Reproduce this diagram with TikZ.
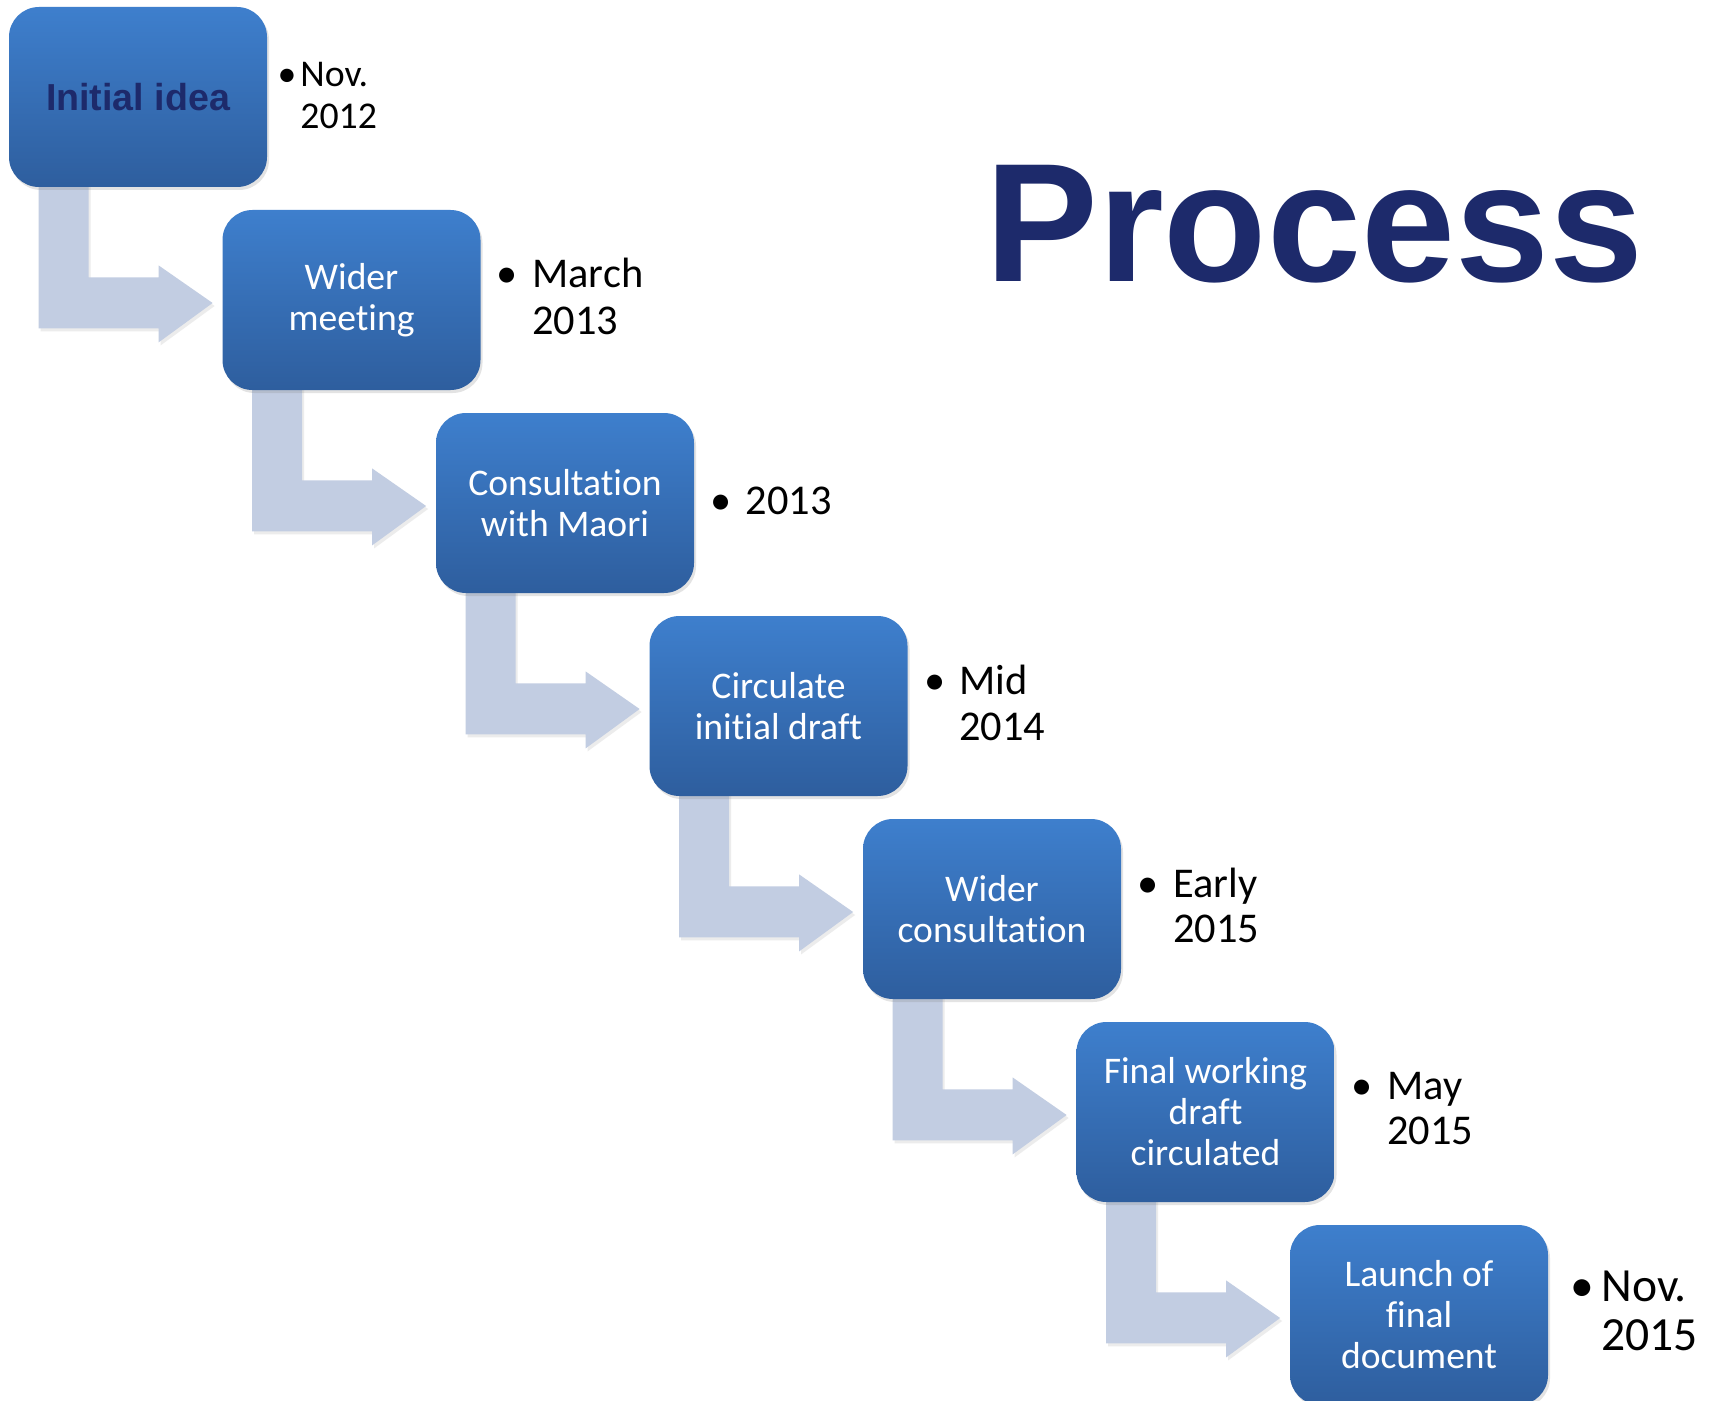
\documentclass[tikz,border=0pt]{standalone}
\usepackage{fontspec}
\setmainfont{Carlito}[Ligatures={NoCommon}]
\newfontfamily\arialfont{Liberation Sans}
\usetikzlibrary{calc,shadows,backgrounds}
\definecolor{navy}{RGB}{29,42,107}
\definecolor{boxtop}{RGB}{62,127,205}
\definecolor{boxbot}{RGB}{46,94,158}
\definecolor{arrowc}{RGB}{194,205,226}
\tikzset{
  stagebox/.style={minimum width=129pt, minimum height=90pt, inner sep=0pt,
    rounded corners=15pt, top color=boxtop, bottom color=boxbot, draw=none,
    text=white, align=center, font=\fontsize{18.8}{20.5}\selectfont,
    drop shadow={opacity=0.22, shadow xshift=1pt, shadow yshift=-1.5pt}},
  bentarrow/.style={fill=arrowc,
    drop shadow={opacity=0.15, shadow xshift=1pt, shadow yshift=-1.5pt}},
  datebullet/.style={anchor=base, inner sep=0pt},
  datetext/.style={anchor=base west, inner sep=0pt},
}
\newcommand\connect[2]{%
  \fill[bentarrow] ($(#1.south west)+(30,-20)$) -- ++(0,161) -- ++(120,0) -- ++(0,14)
    -- ($(#2.west)+(-9.5,3)$) -- ($(#1.south west)+(150,78)$) -- ++(0,12)
    -- ++(-70,0) -- ++(0,-110) -- cycle;}
\newcommand\twolines[2]{\begin{tabular}[t]{@{}l@{}}#1\\#2\end{tabular}}
\begin{document}
\begin{tikzpicture}[x=0.5pt,y=-0.5pt]
\useasboundingbox (0,0) rectangle (1717,1401);
\clip (0,0) rectangle (1717,1401);
\begin{scope}[on background layer]
\fill[white] (0,0) rectangle (1717,1401);
\end{scope}

% title
\node[anchor=base west, inner sep=0pt, text=navy,
      font=\arialfont\bfseries\fontsize{84.5}{90}\selectfont] (title) at (985,282) {Process};

% stage boxes
\node[stagebox, text=navy, font=\arialfont\bfseries\fontsize{18.8}{22}\selectfont] (b1) at (138,97) {Initial idea};
\node[stagebox] (b2) at (351.5,300) {Wider\\meeting};
\node[stagebox] (b3) at (565,503) {Consultation\\with Maori};
\node[stagebox] (b4) at (778.5,706) {Circulate\\initial draft};
\node[stagebox] (b5) at (992,909) {Wider\\consultation};
\node[stagebox] (b6) at (1205.5,1112) {Final working\\draft\\circulated};
\node[stagebox] (b7) at (1419,1315) {Launch of\\final\\document};

% connectors
\begin{scope}[on background layer]
\connect{b1}{b2}
\connect{b2}{b3}
\connect{b3}{b4}
\connect{b4}{b5}
\connect{b5}{b6}
\connect{b6}{b7}
\end{scope}

% dates
\node[datebullet, font=\fontsize{18.9}{21}\selectfont] (p1) at (287,87) {•};
\node[datetext, font=\fontsize{18.9}{21}\selectfont] (d1) at (300,87) {\twolines{Nov.}{2012}};
\node[datebullet, font=\fontsize{21.2}{23.5}\selectfont] (p2) at (507,288) {•};
\node[datetext, font=\fontsize{21.2}{23.5}\selectfont] (d2) at (532,288) {\twolines{March}{2013}};
\node[datebullet, font=\fontsize{21.2}{23}\selectfont] (p3) at (721,514) {•};
\node[datetext, font=\fontsize{21.2}{23}\selectfont] (d3) at (745.5,514) {2013};
\node[datebullet, font=\fontsize{21.2}{23}\selectfont] (p4) at (935,694) {•};
\node[datetext, font=\fontsize{21.2}{23}\selectfont] (d4) at (959,694) {\twolines{Mid}{2014}};
\node[datebullet, font=\fontsize{21.2}{22.5}\selectfont] (p5) at (1148,897) {•};
\node[datetext, font=\fontsize{21.2}{22.5}\selectfont] (d5) at (1173,897) {\twolines{Early}{2015}};
\node[datebullet, font=\fontsize{21.2}{22.5}\selectfont] (p6) at (1362,1099) {•};
\node[datetext, font=\fontsize{21.2}{22.5}\selectfont] (d6) at (1387,1099) {\twolines{May}{2015}};
\node[datebullet, font=\fontsize{23.8}{24.5}\selectfont] (p7) at (1582,1301) {•};
\node[datetext, font=\fontsize{23.8}{24.5}\selectfont] (d7) at (1601,1301) {\twolines{Nov.}{2015}};
\end{tikzpicture}
\end{document}
